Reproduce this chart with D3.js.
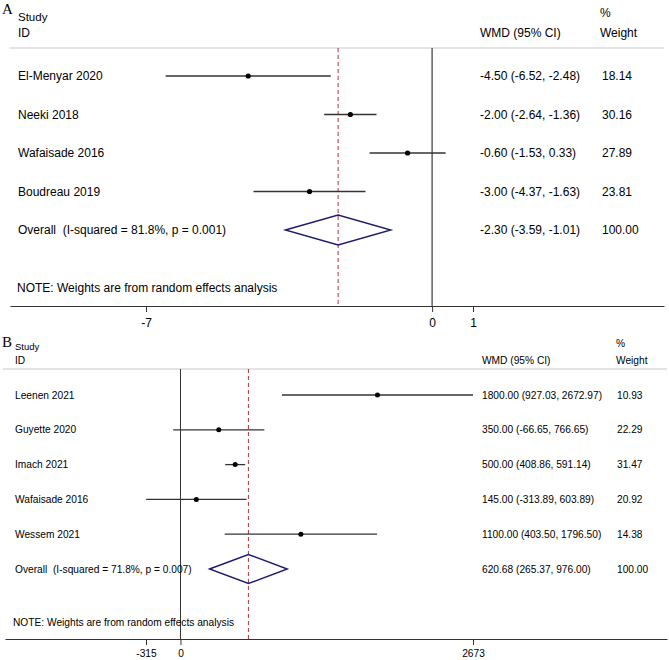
<!DOCTYPE html>
<html><head><meta charset="utf-8">
<script src="https://cdn.jsdelivr.net/npm/d3@7"></script>
<style>
html,body{margin:0;padding:0;background:#fff;}
svg{display:block;font-family:"Liberation Sans",Arial,sans-serif;}
text{white-space:pre;}
</style></head>
<body>
<svg id="c" width="669" height="660"></svg>
<script>
// ---------- Panel A data ----------
const studiesA = ["El-Menyar 2020","Neeki 2018","Wafaisade 2016","Boudreau 2019"];
const estA = [-4.50,-2.00,-0.60,-3.00];
const lowA = [-6.52,-2.64,-1.53,-4.37];
const highA = [-2.48,-1.36,0.33,-1.63];
const weightA = ["18.14","30.16","27.89","23.81"];
const overallA = {est:-2.30, low:-3.59, high:-1.01, label:"Overall  (I-squared = 81.8%, p = 0.001)", ci:"-2.30 (-3.59, -1.01)", w:"100.00"};
const ticksA = [-7,0,1];

// ---------- Panel B data ----------
const studiesB = ["Leenen 2021","Guyette 2020","Imach 2021","Wafaisade 2016","Wessem 2021"];
const estB = [1800.00,350.00,500.00,145.00,1100.00];
const lowB = [927.03,-66.65,408.86,-313.89,403.50];
const highB = [2672.97,766.65,591.14,603.89,1796.50];
const weightB = ["10.93","22.29","31.47","20.92","14.38"];
const overallB = {est:620.68, low:265.37, high:976.00, label:"Overall  (I-squared = 71.8%, p = 0.007)", ci:"620.68 (265.37, 976.00)", w:"100.00"};
const ticksB = [-315,0,2673];

const fmt2 = v => v.toFixed(2);
const ciText = (e,l,h) => `${fmt2(e)} (${fmt2(l)}, ${fmt2(h)})`;

const svg = d3.select("#c");

function panel(cfg){
  const g = svg.append("g");
  const x = d3.scaleLinear().domain(cfg.tickDomain).range([146,473]);
  const xAxisScale = x.copy().domain([x.invert(cfg.axisL), x.invert(cfg.axisR)]).range([cfg.axisL,cfg.axisR]);
  const n = cfg.studies.length;
  const y = d3.scaleLinear().domain([0,n]).range([cfg.y0,cfg.yOverall]);
  const fs = cfg.fs;

  // letter + headers
  g.append("text").attr("x",2).attr("y",cfg.letterY).attr("font-family","'Liberation Serif','Times New Roman',serif")
    .attr("font-size",cfg.letterFs).attr("fill","#000").text(cfg.letter);
  g.append("text").attr("x",cfg.labelX).attr("y",cfg.studyY).attr("font-size",cfg.studyFs).text("Study");
  g.append("text").attr("x",cfg.labelX).attr("y",cfg.idY).attr("font-size",fs).text("ID");
  g.append("text").attr("x",cfg.ciX).attr("y",cfg.idY).attr("font-size",fs).text("WMD (95% CI)");
  g.append("text").attr("x",cfg.wX).attr("y",cfg.pctY).attr("font-size",fs).text("%");
  g.append("text").attr("x",cfg.wX).attr("y",cfg.idY).attr("font-size",fs).text("Weight");
  g.append("line").attr("x1",cfg.hdrL).attr("x2",cfg.axisR).attr("y1",cfg.hdrY).attr("y2",cfg.hdrY)
    .attr("stroke","#c8c8c8").attr("stroke-width",1.2);

  // zero line
  g.append("line").attr("x1",x(0)).attr("x2",x(0)).attr("y1",cfg.hdrY).attr("y2",cfg.axisY)
    .attr("stroke",cfg.zeroColor).attr("stroke-width",cfg.zeroW);
  // overall dashed line
  g.append("line").attr("x1",x(cfg.overall.est)).attr("x2",x(cfg.overall.est)).attr("y1",cfg.hdrY).attr("y2",cfg.axisY)
    .attr("stroke","#b5303f").attr("stroke-width",1).attr("stroke-dasharray","4,3");

  // studies
  cfg.studies.forEach((s,i)=>{
    const yy = y(i);
    g.append("line").attr("x1",x(cfg.low[i])).attr("x2",x(cfg.high[i])).attr("y1",yy).attr("y2",yy)
      .attr("stroke","#333").attr("stroke-width",cfg.ciW);
    g.append("circle").attr("cx",x(cfg.est[i])).attr("cy",yy).attr("r",cfg.ptR).attr("fill","#000");
    g.append("text").attr("x",cfg.labelX).attr("y",yy+fs*0.36).attr("font-size",fs).text(s);
    g.append("text").attr("x",cfg.ciX).attr("y",yy+fs*0.36).attr("font-size",fs).text(ciText(cfg.est[i],cfg.low[i],cfg.high[i]));
    g.append("text").attr("x",cfg.wX2).attr("y",yy+fs*0.36).attr("font-size",fs).text(cfg.weight[i]);
  });

  // overall
  const yo = y(n), o = cfg.overall, hh = cfg.dh;
  g.append("path").attr("d",`M${x(o.low)},${yo}L${x(o.est)},${yo-hh}L${x(o.high)},${yo}L${x(o.est)},${yo+hh}Z`)
    .attr("fill","none").attr("stroke","#1c1c6e").attr("stroke-width",1.4);
  g.append("text").attr("x",cfg.labelX).attr("y",yo+fs*0.36).attr("font-size",fs).text(o.label);
  g.append("text").attr("x",cfg.ciX).attr("y",yo+fs*0.36).attr("font-size",fs).text(o.ci);
  g.append("text").attr("x",cfg.wX2).attr("y",yo+fs*0.36).attr("font-size",fs).text(o.w);

  g.append("text").attr("x",cfg.noteX).attr("y",cfg.noteY).attr("font-size",fs).text("NOTE: Weights are from random effects analysis");

  // axis
  const ax = g.append("g").attr("transform",`translate(0,${cfg.axisY})`)
    .call(d3.axisBottom(xAxisScale).tickValues(cfg.ticks).tickSize(6).tickSizeOuter(0).tickPadding(cfg.tickPad).tickFormat(d=>String(d)));
  ax.select(".domain").attr("stroke","#333").attr("stroke-width",1.2);
  ax.selectAll(".tick line").attr("stroke","#333");
  ax.selectAll(".tick text").attr("font-size",fs).attr("fill","#000").attr("font-family","'Liberation Sans',Arial,sans-serif");
}

panel({letter:"A", letterY:14, letterFs:15, studyY:21, studyFs:11.5, idY:37, pctY:17,
  labelX:18, ciX:480, wX:600, wX2:602, hdrL:10, hdrY:48, axisL:10, axisR:664, axisY:306,
  y0:76, yOverall:230, fs:12, studies:studiesA, est:estA, low:lowA, high:highA, weight:weightA,
  overall:overallA, ticks:ticksA, tickDomain:[-7,1], zeroColor:"#6a6a6a", zeroW:1.6, ciW:1.5, ptR:2.6, dh:15,
  noteX:17, noteY:292, tickPad:6});

panel({letter:"B", letterY:347, letterFs:15, studyY:350, studyFs:9.5, idY:364, pctY:347,
  labelX:15, ciX:482, wX:616, wX2:617, hdrL:3, hdrY:369, axisL:5, axisR:667, axisY:639,
  y0:395, yOverall:569, fs:10.2, studies:studiesB, est:estB, low:lowB, high:highB, weight:weightB,
  overall:overallB, ticks:ticksB, tickDomain:[-315,2673], zeroColor:"#333", zeroW:1, ciW:1.3, ptR:2.5, dh:14.5,
  noteX:13, noteY:626, tickPad:5});
</script>
</body></html>
